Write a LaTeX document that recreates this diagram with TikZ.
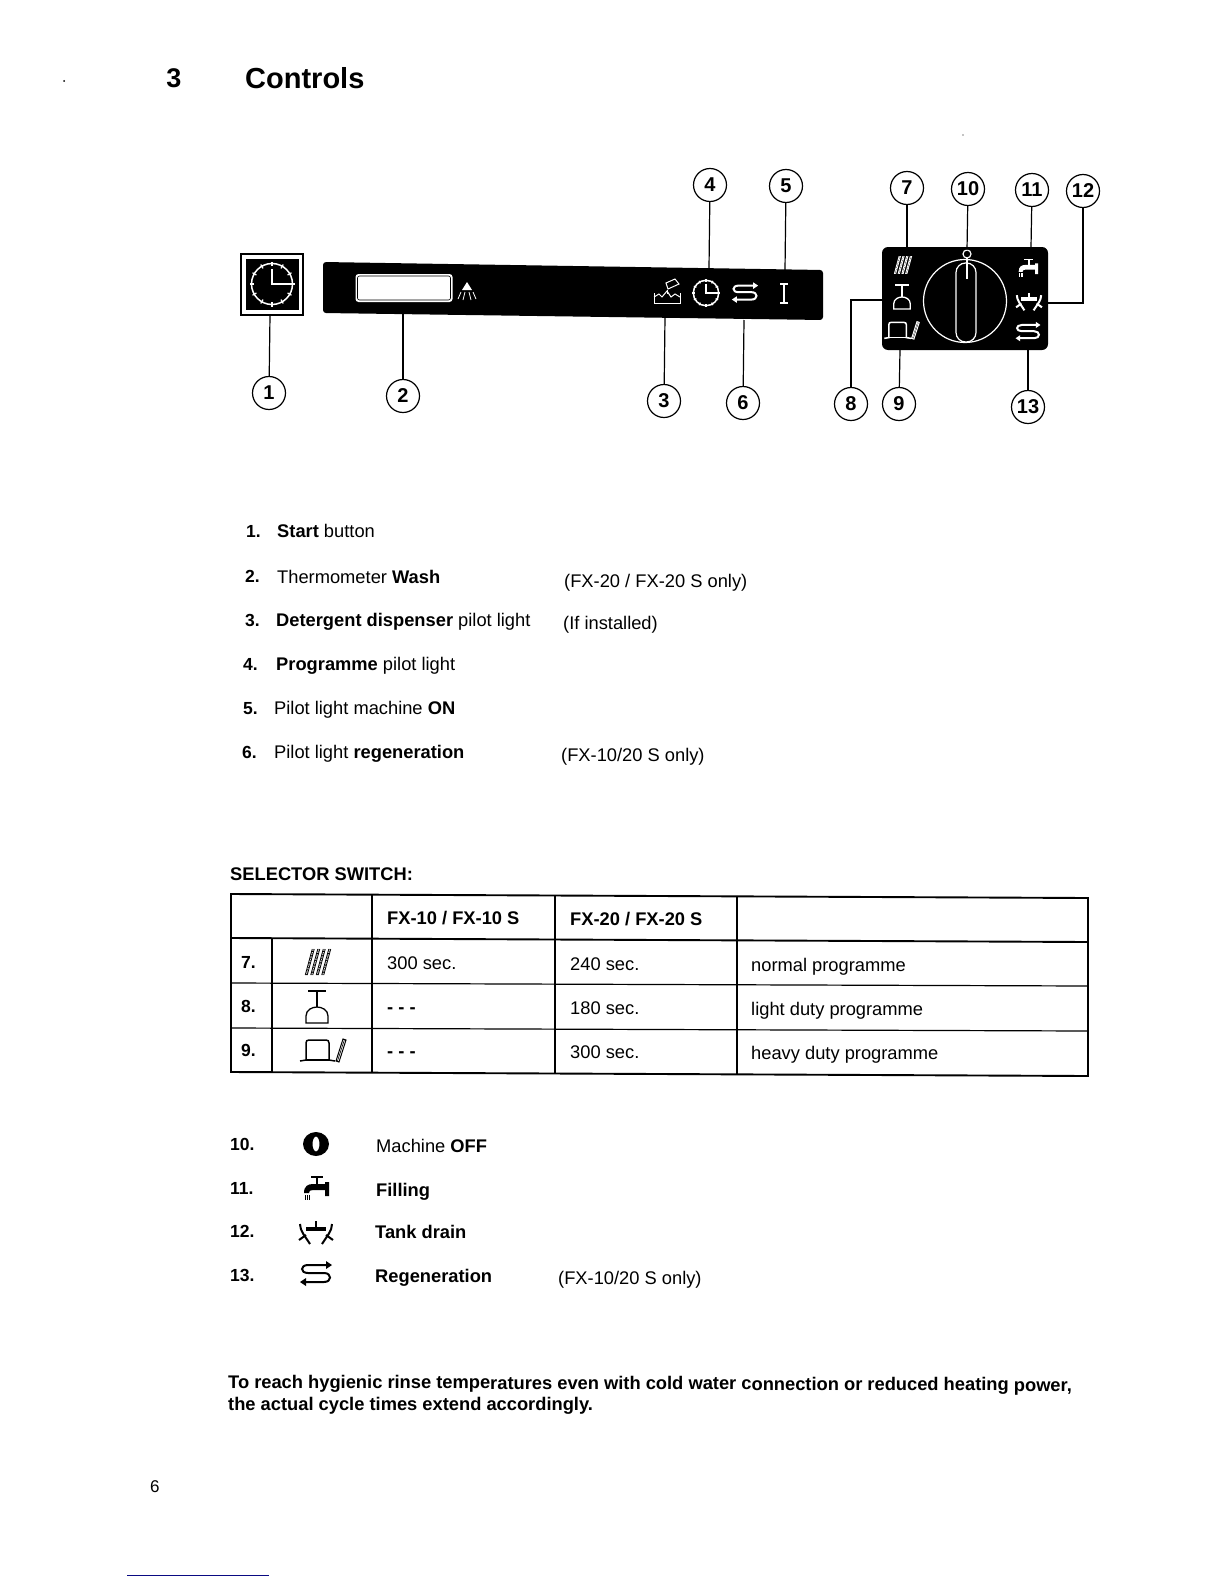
\documentclass[tikz,border=0pt]{standalone}
\usepackage{fontspec}
\setmainfont{Liberation Sans}
\definecolor{rulenavy}{RGB}{10,10,130}
\begin{document}
\begin{tikzpicture}[x=1pt,y=-1pt,
  txt/.style={anchor=base west,inner sep=0pt,font=\fontsize{18.3}{20}\selectfont},
  btxt/.style={txt,font=\fontsize{18.3}{20}\selectfont\bfseries},
  numtxt/.style={txt,font=\fontsize{17.5}{20}\selectfont\bfseries},
  callout/.style={circle,draw,fill=white,line width=1.2pt,minimum size=33pt,inner sep=0pt,font=\fontsize{20}{20}\selectfont\bfseries},
  leader/.style={line width=1.2pt},
  tablemajor/.style={line width=1.9pt},
  tableminor/.style={line width=1.2pt},
  clockicon/.pic={
    \draw[line width=1.5pt] (0,0) circle (20.5);
    \foreach \a in {0,30,...,330} {\draw[line width=1.2pt] (\a:18) -- (\a:22.5);}
    \draw[line width=1.6pt] (0,-15) -- (0,0) -- (19,0);
  },
  regenicon/.pic={
    \draw[line width=2pt] (12,-9) -- (-8,-9) .. controls (-16,-9) and (-16,-1) .. (-8,-1) -- (8,-1) .. controls (16,-1) and (16,8) .. (8,8) -- (-12,8);
    \fill (16,-9) -- (10,-13) -- (10,-5) -- cycle;
    \fill (-16,8) -- (-10,4) -- (-10,12) -- cycle;
  },
  heaticon/.pic={
    \foreach \d in {-8.25,-2.75,2.75,8.25} {
      \draw[line width=.8pt] (\d-4.5,13) -- (\d+2.5,-13);
      \draw[line width=.8pt] (\d-2.5,13) -- (\d+4.5,-13);
      \draw[line width=.8pt,dash pattern=on 1.2pt off 1.2pt] (\d-3.5,13) -- (\d+3.5,-13);
    }
  },
  glassicon/.pic={
    \draw[line width=1.3pt] (-9,-16) -- (9,-16) (0,-16) -- (0,0);
    \draw[line width=1.3pt] (-11,16) -- (-11,9) .. controls (-11,3) and (-5,0) .. (0,0) .. controls (5,0) and (11,3) .. (11,9) -- (11,16) -- cycle;
  },
  poticon/.pic={
    \draw[line width=1.5pt] (-22,11) -- (-16,10) -- (-16,-7) .. controls (-16,-9) and (-15,-10) .. (-13,-10) -- (4,-10) .. controls (6,-10) and (7,-9) .. (7,-7) -- (7,10) -- (13,11);
    \draw[line width=1.1pt] (-16,10) -- (7,10);
    \draw[line width=1pt] (14,11) -- (21,-11) -- (24,-10) -- (17,12) -- cycle;
    \draw[line width=.6pt] (15.5,11) -- (22.5,-10.5);
  },
  tapicon/.pic={
    \draw[line width=1.4pt] (-5,-11) -- (7,-11);
    \draw[line width=2pt] (1,-11) -- (1,-3);
    \fill (-12,5) .. controls (-12,-2) and (-8,-4) .. (-3,-4) -- (9,-4) -- (9,-6) -- (13,-6) -- (13,8) -- (9,8) -- (9,2) -- (-3,2) .. controls (-6,2) and (-7,3) .. (-7,5) -- cycle;
    \draw[line width=.7pt] (-11,7) -- (-11,12) (-9,7) -- (-9,12) (-7,7) -- (-7,12);
  },
  drainicon/.pic={
    \draw[line width=3.2pt] (-10,-4) -- (10,-4);
    \draw[line width=2.8pt] (0,-12) -- (0,-4);
    \draw[line width=2pt] (-16,-9) .. controls (-16,-2) and (-11,3) .. (-6,11);
    \draw[line width=2pt] (16,-9) .. controls (16,-2) and (11,3) .. (6,11);
    \draw[line width=2pt] (-17,7) -- (-10,2) (17,7) -- (10,2);
  },
  officon/.pic={
    \fill[even odd rule] (0,0) ellipse (13 and 12) (0,0) ellipse (3.5 and 7.5);
  },
  detergenticon/.pic={
    \draw[line width=1pt] (-13,1) -- (-13,11) -- (13,11) -- (13,1);
    \draw[line width=1pt] (-13,5) -- (-8,2) -- (-5,5) -- (0,-1) -- (4,5) -- (8,2) -- (13,5);
    \draw[line width=1pt] (1,-3) -- (-1,-9) -- (8,-13) -- (12,-8) -- cycle;
    \draw[line width=1pt] (0,-2) -- (0,2);
  },
  showericon/.pic={
    \fill (0,-10) -- (5,-2) -- (-5,-2) -- cycle;
    \draw[line width=.8pt] (-9,7) -- (-6,0) (-4,8) -- (-2,0) (4,8) -- (2,0) (9,7) -- (6,0);
  }
]
\path[use as bounding box] (0,0) rectangle (1224,1584);

% heading
\node[anchor=base,inner sep=0pt,font=\fontsize{27}{30}\selectfont\bfseries] (hnum) at (174,88) {3};
\node[anchor=base west,inner sep=0pt,font=\fontsize{29}{30}\selectfont\bfseries] (htitle) at (245,89) {Controls};
\fill (64,81) circle (1);
\fill (963,135) circle (.6);

% start button
\node[draw,line width=1.6pt,minimum width=62pt,minimum height=61pt,inner sep=0pt] (startbox) at (272,284.5) {};
\node[fill=black,minimum width=53pt,minimum height=51pt,inner sep=0pt] (startblack) at (272,284.5) {};
\pic[color=white] at (272,284) {clockicon};

% main panel
\fill[black,rounded corners=3pt] (323,262) -- (823,270) -- (823,320) -- (323,313) -- cycle;
\node[fill=white,rounded corners=3pt,minimum width=97pt,minimum height=28pt,inner sep=0pt] (display) at (404,288) {};
\node[draw=black,line width=.6pt,rounded corners=2pt,minimum width=93pt,minimum height=24pt,inner sep=0pt] (displayline) at (404,288) {};
\pic[color=white] at (467,292) {showericon};
\pic[color=white] at (667,292) {detergenticon};
\pic[color=white,scale=.62] at (706,293) {clockicon};
\pic[color=white,scale=.82] at (745,293) {regenicon};
\draw[white,line width=2.4pt] (784,285) -- (784,302);
\draw[white,line width=1.2pt] (780,284) -- (788,284) (780,303) -- (788,303);

% dial panel
\node[fill=black,rounded corners=6pt,minimum width=166pt,minimum height=103pt,inner sep=0pt] (dial) at (965,298.5) {};
\draw[white,line width=1.2pt] (965,301) circle (41.5);
\draw[white,line width=1.2pt,rounded corners=9.5pt] (956,342) rectangle (976,263);
\draw[white,line width=1.2pt] (967,254) circle (4);
\draw[white,line width=2pt] (967,258) -- (967,279);
\pic[color=white,scale=.68] at (903,265) {heaticon};
\pic[color=white,scale=.75] at (902,297) {glassicon};
\pic[color=white,scale=.76] at (901,330) {poticon};
\pic[color=white,scale=.78] at (1028,268) {tapicon};
\pic[color=white,scale=.76] at (1029,302) {drainicon};
\pic[color=white,scale=.78] at (1028,332) {regenicon};

% callouts
\node[callout] (c1) at (269,393) {1};
\node[callout] (c2) at (403,396) {2};
\node[callout] (c3) at (664,401) {3};
\node[callout] (c4) at (710,185) {4};
\node[callout] (c5) at (786,186) {5};
\node[callout] (c6) at (743,403) {6};
\node[callout] (c7) at (907,188) {7};
\node[callout] (c8) at (851,404) {8};
\node[callout] (c9) at (899,404) {9};
\node[callout] (c10) at (968,189) {10};
\node[callout] (c11) at (1032,190) {11};
\node[callout] (c12) at (1083,191) {12};
\node[callout] (c13) at (1028,407) {13};
\coordinate (p1) at (270,315);
\coordinate (p2) at (403,313);
\coordinate (p3) at (665,317);
\coordinate (p4) at (709,268);
\coordinate (p5) at (785,270);
\coordinate (p6) at (744,320);
\coordinate (p7) at (907,247);
\coordinate (p8) at (882,300);
\coordinate (p9) at (900,350);
\coordinate (p10) at (967,250);
\coordinate (p11) at (1031,247);
\coordinate (p12) at (1048,303);
\coordinate (p13) at (1028,350);
\foreach \n in {1,2,3,4,5,6,7,9,10,11,13} {\draw[leader] (c\n) -- (p\n);}
\draw[leader] (c8) |- (p8);
\draw[leader] (c12) |- (p12);

% numbered list
\node[numtxt] (n1) at (246,537) {1.};
\node[txt] (l1) at (277,537) {\textbf{Start} button};
\node[numtxt] (n2) at (245,582) {2.};
\node[txt] (l2) at (277,583) {Thermometer \textbf{Wash}};
\node[txt] (r2) at (564,587) {(FX-20 / FX-20 S only)};
\node[numtxt] (n3) at (245,626) {3.};
\node[txt] (l3) at (276,626) {\textbf{Detergent dispenser} pilot light};
\node[txt] (r3) at (563,629) {(If installed)};
\node[numtxt] (n4) at (243,670) {4.};
\node[txt] (l4) at (276,670) {\textbf{Programme} pilot light};
\node[numtxt] (n5) at (243,714) {5.};
\node[txt] (l5) at (274,714) {Pilot light machine \textbf{ON}};
\node[numtxt] (n6) at (242,758) {6.};
\node[txt] (l6) at (274,758) {Pilot light \textbf{regeneration}};
\node[txt] (r6) at (561,761) {(FX-10/20 S only)};

% table
\node[btxt] (sel) at (230,880) {SELECTOR SWITCH:};
\coordinate (tl0) at (231,894); \coordinate (tr0) at (1088,898);
\coordinate (tl1) at (231,938); \coordinate (tr1) at (1088,942);
\coordinate (tl2) at (231,983); \coordinate (tr2) at (1088,986);
\coordinate (tl3) at (231,1028); \coordinate (tr3) at (1088,1031);
\coordinate (tl4) at (231,1072); \coordinate (tr4) at (1088,1076);
\draw[tablemajor] (tl0) -- (tr0) -- (tr4) -- (tl4) -- cycle;
\draw[tablemajor] (tl1) -- (tr1);
\draw[tableminor] (tl2) -- (tr2);
\draw[tableminor] (tl3) -- (tr3);
\draw[tablemajor] (272,938.2) -- (272,1072.4);
\draw[tablemajor] (372,894.5) -- (372,1072.6);
\draw[tablemajor] (555,895.5) -- (555,1073.4);
\draw[tablemajor] (737,896.5) -- (737,1074.5);

\node[btxt] (h1) at (387,924) {FX-10 / FX-10 S};
\node[btxt] (h2) at (570,925) {FX-20 / FX-20 S};
\node[numtxt] (k7) at (241,968) {7.};
\pic at (318,962) {heaticon};
\node[txt] (a7) at (387,969) {300 sec.};
\node[txt] (b7) at (570,970) {240 sec.};
\node[txt] (d7) at (751,971) {normal programme};
\node[numtxt] (k8) at (241,1012) {8.};
\pic at (317,1007) {glassicon};
\node[btxt] (a8) at (387,1013) {- - -};
\node[txt] (b8) at (570,1014) {180 sec.};
\node[txt] (d8) at (751,1015) {light duty programme};
\node[numtxt] (k9) at (241,1056) {9.};
\pic at (322,1050) {poticon};
\node[btxt] (a9) at (387,1057) {- - -};
\node[txt] (b9) at (570,1058) {300 sec.};
\node[txt] (d9) at (751,1059) {heavy duty programme};

% lower list
\node[numtxt] (m10) at (230,1150) {10.};
\pic at (316,1144) {officon};
\node[txt] (o10) at (376,1152) {Machine \textbf{OFF}};
\node[numtxt] (m11) at (230,1194) {11.};
\pic at (316,1188) {tapicon};
\node[btxt] (o11) at (376,1196) {Filling};
\node[numtxt] (m12) at (230,1237) {12.};
\pic at (316,1233) {drainicon};
\node[btxt] (o12) at (375,1238) {Tank drain};
\node[numtxt] (m13) at (230,1281) {13.};
\pic at (316,1274) {regenicon};
\node[btxt] (o13) at (375,1282) {Regeneration};
\node[txt] (r13) at (558,1284) {(FX-10/20 S only)};

% closing note
\node[btxt,rotate=-.22] (note1) at (228,1388) {To reach hygienic rinse temperatures even with cold water connection or reduced heating power,};
\node[btxt] (note2) at (228,1410) {the actual cycle times extend accordingly.};

% page number
\node[txt,font=\fontsize{17}{18}\selectfont] (page) at (150,1492.5) {6};
\draw[rulenavy,line width=1pt] (127,1575) -- (269,1575);
\end{tikzpicture}
\end{document}
